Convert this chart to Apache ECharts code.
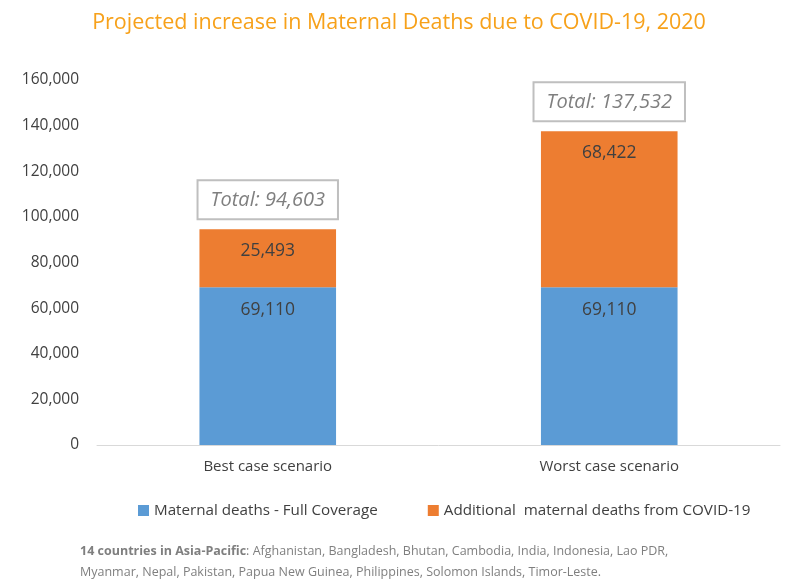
<!DOCTYPE html>
<html>
<head>
<meta charset="utf-8">
<script src="https://cdn.jsdelivr.net/npm/echarts@6/dist/echarts.min.js"></script>
<style>
    html, body { margin: 0; padding: 0; background: #ffffff; }
    #chart { width: 798px; height: 586px; }
</style>
</head>
<body>
<div id="chart"></div>
<script>
// chart data
const categories = ['Best case scenario', 'Worst case scenario']
const fullCoverage = [69110, 69110]
const additional = [25493, 68422]
const totals = [94603, 137532]
const yTicks = [0, 20000, 40000, 60000, 80000, 100000, 120000, 140000, 160000]

const fontFamily = 'Open Sans, sans-serif'
const textColor = '#404040'

const fmt = (v) => Number(v).toLocaleString('en-US')

const myChart = echarts.init(document.getElementById('chart'))

const option = {
    backgroundColor: '#ffffff',
    animation: false,
    textStyle: { fontFamily: fontFamily },
    title: {
        text: 'Projected increase in Maternal Deaths due to COVID-19, 2020',
        left: 'center',
        top: 7,
        textStyle: {
            color: '#F7A11A',
            fontSize: 21.5,
            fontWeight: 'normal',
            fontFamily: fontFamily
        }
    },
    grid: {
        left: 97,
        right: 18,
        top: 80,
        bottom: 141
    },
    legend: {
        bottom: 63,
        left: 133,
        itemWidth: 11,
        itemHeight: 11,
        itemGap: 50,
        icon: 'rect',
        textStyle: { color: textColor, fontSize: 15.2, fontFamily: fontFamily },
        data: ['Maternal deaths - Full Coverage', 'Additional  maternal deaths from COVID-19']
    },
    xAxis: [{
        type: 'category',
        data: categories,
        axisLine: { lineStyle: { color: '#d9d9d9', width: 1 } },
        axisTick: { show: false },
        axisLabel: { color: textColor, fontSize: 15, margin: 14 }
    }],
    yAxis: [{
        type: 'value',
        min: yTicks[0],
        max: yTicks[yTicks.length - 1],
        interval: yTicks[1] - yTicks[0],
        splitLine: { show: false },
        axisLine: { show: false },
        axisTick: { show: false },
        axisLabel: {
            color: textColor,
            fontSize: 15.5,
            margin: 18,
            formatter: (v) => fmt(v)
        }
    }],
    series: [
        {
            name: 'Maternal deaths - Full Coverage',
            type: 'bar',
            stack: 'total',
            barWidth: '40%',
            itemStyle: { color: '#5B9BD5' },
            label: {
                show: true,
                position: 'insideTop',
                distance: 14,
                color: textColor,
                fontSize: 17.5,
                formatter: (p) => fmt(p.value)
            },
            data: fullCoverage
        },
        {
            name: 'Additional  maternal deaths from COVID-19',
            type: 'bar',
            stack: 'total',
            itemStyle: { color: '#ED7D31' },
            label: {
                show: true,
                position: 'insideTop',
                distance: 13,
                color: textColor,
                fontSize: 17.5,
                formatter: (p) => fmt(p.value)
            },
            data: additional
        },
        {
            // invisible bar on top of the stack, only carries the total box
            name: 'Total',
            type: 'bar',
            stack: 'total',
            silent: true,
            itemStyle: { color: 'transparent' },
            label: {
                show: true,
                position: 'top',
                distance: 11,
                color: '#7f7f7f',
                fontSize: 20,
                fontStyle: 'italic',
                backgroundColor: '#ffffff',
                borderColor: '#bfbfbf',
                borderWidth: 2,
                padding: [9, 12, 8, 12],
                formatter: (p) => 'Total: ' + fmt(totals[p.dataIndex])
            },
            data: categories.map(() => 0)
        }
    ],
    graphic: [{
        type: 'text',
        left: 80,
        top: 541,
        style: {
            text: '{b|14 countries in Asia-Pacific}: Afghanistan, Bangladesh, Bhutan, Cambodia, India, Indonesia, Lao PDR,\nMyanmar, Nepal, Pakistan, Papua New Guinea, Philippines, Solomon Islands, Timor-Leste.',
            fill: '#7f7f7f',
            fontSize: 12.5,
            lineHeight: 21,
            fontFamily: fontFamily,
            rich: {
                b: { fontWeight: 'bold', fill: '#7f7f7f', fontSize: 12.5, fontFamily: fontFamily }
            }
        }
    }]
}

myChart.setOption(option)
</script>
</body>
</html>
